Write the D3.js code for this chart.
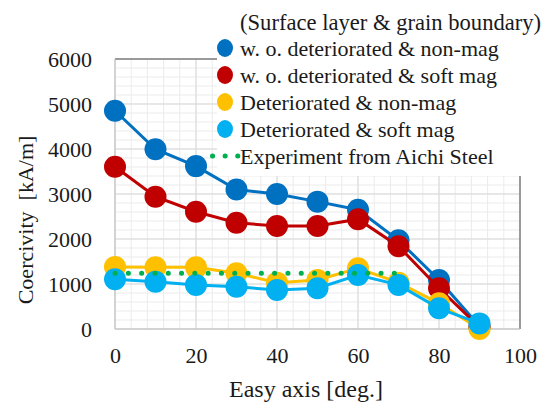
<!DOCTYPE html>
<html>
<head>
<meta charset="utf-8">
<script src="https://cdn.jsdelivr.net/npm/d3@7"></script>
<style>
  body { margin: 0; background: #fff; }
</style>
</head>
<body>
<svg id="chart" width="544" height="403"></svg>
<script>
// data
const angles = [0, 10, 20, 30, 40, 50, 60, 70, 80, 90];
const woNonMag = [4850, 3995, 3620, 3100, 3000, 2830, 2650, 1970, 1090, 60];
const woSoftMag = [3605, 2940, 2605, 2360, 2290, 2290, 2440, 1840, 905, 40];
const detNonMag = [1380, 1370, 1370, 1240, 1030, 1090, 1350, 1030, 570, 0];
const detSoftMag = [1105, 1050, 980, 940, 865, 905, 1200, 980, 460, 125];
const expAngles = [0, 70];
const expValues = [1240, 1240];
const xTicks = [0, 20, 40, 60, 80, 100];
const yTicks = [0, 1000, 2000, 3000, 4000, 5000, 6000];
const legendTitle = '(Surface layer & grain boundary)';

const series = [
    { name: 'w. o. deteriorated & non-mag', values: woNonMag, color: '#0070C0' },
    { name: 'w. o. deteriorated & soft mag', values: woSoftMag, color: '#C00000' },
    { name: 'Deteriorated & non-mag', values: detNonMag, color: '#FFC000' },
    { name: 'Deteriorated & soft mag', values: detSoftMag, color: '#00B0F0' }
];
const expName = 'Experiment from Aichi Steel';
const expColor = '#00B050';
const serif = '"Liberation Serif", "Times New Roman", serif';
const textColor = '#1a1a1a';

const svg = d3.select('#chart');
const x = d3.scaleLinear().domain([0, 100]).range([115, 520]);
const y = d3.scaleLinear().domain([0, 6000]).range([329, 59]);

const addText = (parent, px, py, str, size) =>
    parent.append('text')
        .attr('x', px).attr('y', py)
        .style('font-family', serif)
        .attr('font-size', size)
        .attr('fill', textColor)
        .text(str);

// minor + major gridlines
const grid = svg.append('g');
grid.selectAll('.vminor').data(d3.range(0, 101, 4)).join('line')
    .attr('x1', d => x(d)).attr('x2', d => x(d))
    .attr('y1', y(0)).attr('y2', y(6000))
    .attr('stroke', '#ebebeb').attr('stroke-width', 1);
grid.selectAll('.hminor').data(d3.range(0, 6001, 200)).join('line')
    .attr('x1', x(0)).attr('x2', x(100))
    .attr('y1', d => y(d)).attr('y2', d => y(d))
    .attr('stroke', '#ebebeb').attr('stroke-width', 1);
grid.selectAll('.vmajor').data(xTicks).join('line')
    .attr('x1', d => x(d)).attr('x2', d => x(d))
    .attr('y1', y(0)).attr('y2', y(6000))
    .attr('stroke', '#d9d9d9').attr('stroke-width', 1);
grid.selectAll('.hmajor').data(yTicks).join('line')
    .attr('x1', x(0)).attr('x2', x(100))
    .attr('y1', d => y(d)).attr('y2', d => y(d))
    .attr('stroke', '#d9d9d9').attr('stroke-width', 1);

// plot border
svg.append('line').attr('x1', x(0)).attr('x2', x(100)).attr('y1', y(6000)).attr('y2', y(6000))
    .attr('stroke', '#808080').attr('stroke-width', 1.5);
svg.append('line').attr('x1', x(100)).attr('x2', x(100)).attr('y1', y(6000)).attr('y2', y(0))
    .attr('stroke', '#808080').attr('stroke-width', 1.5);
svg.append('line').attr('x1', x(0)).attr('x2', x(0)).attr('y1', y(6000)).attr('y2', y(0))
    .attr('stroke', '#bfbfbf').attr('stroke-width', 1);
svg.append('line').attr('x1', x(0)).attr('x2', x(100)).attr('y1', y(0)).attr('y2', y(0))
    .attr('stroke', '#bfbfbf').attr('stroke-width', 1);

// axes (labels only)
const xAxis = svg.append('g').attr('transform', `translate(0,${y(0)})`)
    .call(d3.axisBottom(x).tickValues(xTicks).tickSize(0).tickPadding(18));
const yAxis = svg.append('g').attr('transform', `translate(${x(0)},0)`)
    .call(d3.axisLeft(y).tickValues(yTicks).tickSize(0).tickPadding(23).tickFormat(d3.format('d')));
[xAxis, yAxis].forEach(a => {
    a.select('.domain').remove();
    a.selectAll('text').style('font-family', serif).attr('font-size', 22).attr('fill', textColor);
});

// axis titles
addText(svg, 306, 397, 'Easy axis [deg.]', 24).attr('text-anchor', 'middle');
addText(svg, 0, 0, 'Coercivity\u00a0\u00a0[kA/m]', 22)
    .attr('transform', 'translate(33,220) rotate(-90)')
    .attr('text-anchor', 'middle');

// series
const line = d3.line().x((d, i) => x(angles[i])).y(d => y(d));
series.forEach(s => {
    const g = svg.append('g');
    g.append('path').datum(s.values).attr('d', line)
        .attr('fill', 'none').attr('stroke', s.color).attr('stroke-width', 3);
    g.selectAll('circle').data(s.values).join('circle')
        .attr('cx', (d, i) => x(angles[i])).attr('cy', d => y(d)).attr('r', 11)
        .attr('fill', s.color);
});

// experiment dotted line
svg.append('path').datum(expValues)
    .attr('d', d3.line().x((d, i) => x(expAngles[i])).y(d => y(d)))
    .attr('fill', 'none').attr('stroke', expColor).attr('stroke-width', 5)
    .attr('stroke-linecap', 'round').attr('stroke-dasharray', '0.1 13.2');

// legend
const legend = svg.append('g');
legend.append('rect').attr('x', 217).attr('y', 0).attr('width', 327).attr('height', 176).attr('fill', '#fff');
addText(legend, 240, 30, legendTitle, 22.6);
series.forEach((s, i) => {
    const cy = 48 + i * 27;
    legend.append('ellipse').attr('cx', 225).attr('cy', cy).attr('rx', 8).attr('ry', 9).attr('fill', s.color);
    addText(legend, 240, cy + 7.5, s.name, 22);
});
const ey = 48 + 4 * 27;
legend.append('line').attr('x1', 212.5).attr('x2', 238).attr('y1', ey).attr('y2', ey)
    .attr('stroke', expColor).attr('stroke-width', 5)
    .attr('stroke-linecap', 'round').attr('stroke-dasharray', '0.1 12.5');
addText(legend, 240, ey + 7.5, expName, 22);
</script>
</body>
</html>
